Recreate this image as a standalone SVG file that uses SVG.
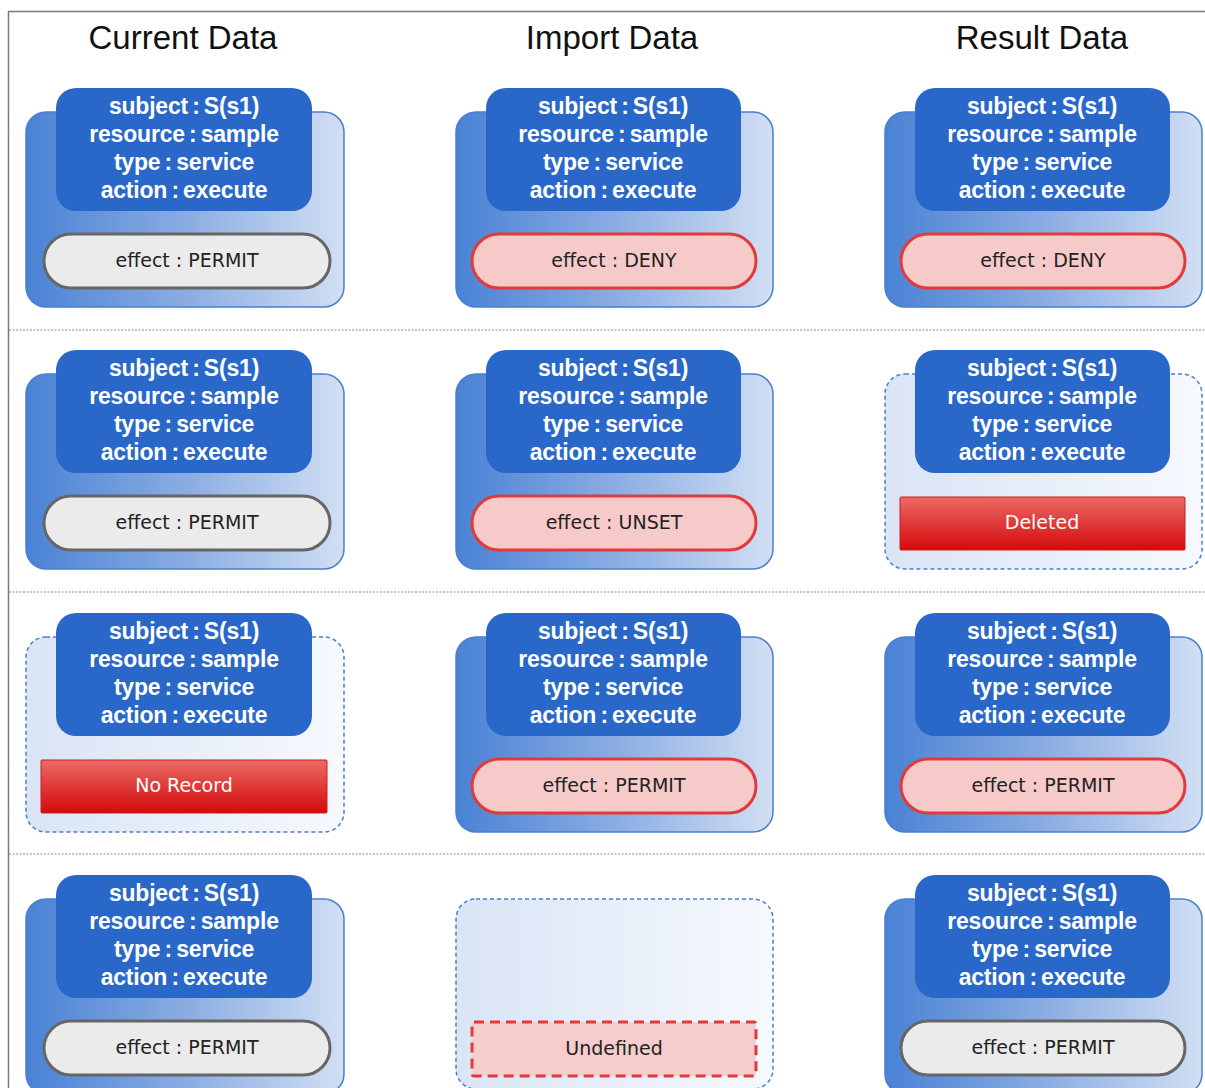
<svg xmlns="http://www.w3.org/2000/svg" width="1205" height="1088" viewBox="0 0 1205 1088">
<defs>
<linearGradient id="gBlue" x1="0" y1="0" x2="1" y2="0">
<stop offset="0" stop-color="#4a82d5"/>
<stop offset="0.5" stop-color="#8aace2"/>
<stop offset="1" stop-color="#d2dff4"/>
</linearGradient>
<linearGradient id="gPale" x1="0" y1="0" x2="1" y2="0">
<stop offset="0" stop-color="#d9e4f5"/>
<stop offset="1" stop-color="#f6f9fe"/>
</linearGradient>
<linearGradient id="gRed" x1="0" y1="0" x2="0" y2="1">
<stop offset="0" stop-color="#ea6a66"/>
<stop offset="1" stop-color="#d40a0a"/>
</linearGradient>
</defs>
<style>
.frame{stroke:#7a7a7a;stroke-width:1.5;fill:none}
.sep{stroke:#888;stroke-width:1;stroke-dasharray:2 1.5;fill:none}
.title{font-family:"Liberation Sans",Arial,sans-serif;font-size:33px;fill:#111;text-anchor:middle}
.outer{fill:url(#gBlue);stroke:#4a7fd0;stroke-width:1.5}
.outerD{fill:url(#gPale);stroke:#4a7fd0;stroke-width:1.5;stroke-dasharray:4 3}
.head{fill:#2968c9}
.ht{font-family:"Liberation Sans",Arial,sans-serif;font-weight:bold;font-size:23px;letter-spacing:-0.2px;word-spacing:-2px;fill:#fff;text-anchor:middle}
.pg{fill:#ebebeb;stroke:#666;stroke-width:3}
.pr{fill:#f7caca;stroke:#e23a3a;stroke-width:3}
.und{fill:#f7cccc;stroke:#e23a3a;stroke-width:3;stroke-dasharray:10 6}
.red{fill:url(#gRed);stroke:#c81e1e;stroke-width:1}
.et{font-family:"DejaVu Sans",Verdana,sans-serif;font-size:19px;fill:#222;text-anchor:middle}
.wt{font-family:"DejaVu Sans",Verdana,sans-serif;font-size:19px;fill:#fff;text-anchor:middle}
</style>
<rect width="1205" height="1088" fill="#fff"/>
<g id="frame">
<path class="frame" d="M8.5 1088 V11.5 H1205"/>
</g>
<g id="separators">
<line class="sep" x1="9" y1="330" x2="1205" y2="330"/>
<line class="sep" x1="9" y1="592" x2="1205" y2="592"/>
<line class="sep" x1="9" y1="854" x2="1205" y2="854"/>
</g>
<g id="titles">
<text class="title" x="183" y="49">Current Data</text>
<text class="title" x="612" y="49">Import Data</text>
<text class="title" x="1042" y="49">Result Data</text>
</g>
<g id="connectors"></g>

<!-- Row 1 -->
<g id="r1c1">
<rect class="outer" x="26" y="112" width="318" height="195" rx="20"/>
<rect class="head" x="56" y="88" width="256" height="123" rx="20"/>
<text class="ht" x="184" y="114">subject : S(s1)</text>
<text class="ht" x="184" y="142">resource : sample</text>
<text class="ht" x="184" y="170">type : service</text>
<text class="ht" x="184" y="198">action : execute</text>
<rect class="pg" x="44" y="234" width="286" height="54" rx="27"/>
<text class="et" x="187" y="267">effect : PERMIT</text>
</g>
<g id="r1c2">
<rect class="outer" x="456" y="112" width="317" height="195" rx="20"/>
<rect class="head" x="486" y="88" width="255" height="123" rx="20"/>
<text class="ht" x="613" y="114">subject : S(s1)</text>
<text class="ht" x="613" y="142">resource : sample</text>
<text class="ht" x="613" y="170">type : service</text>
<text class="ht" x="613" y="198">action : execute</text>
<rect class="pr" x="472" y="234" width="284" height="54" rx="27"/>
<text class="et" x="614" y="267">effect : DENY</text>
</g>
<g id="r1c3">
<rect class="outer" x="885" y="112" width="317" height="195" rx="20"/>
<rect class="head" x="915" y="88" width="255" height="123" rx="20"/>
<text class="ht" x="1042" y="114">subject : S(s1)</text>
<text class="ht" x="1042" y="142">resource : sample</text>
<text class="ht" x="1042" y="170">type : service</text>
<text class="ht" x="1042" y="198">action : execute</text>
<rect class="pr" x="901" y="234" width="284" height="54" rx="27"/>
<text class="et" x="1043" y="267">effect : DENY</text>
</g>

<!-- Row 2 -->
<g id="r2c1">
<rect class="outer" x="26" y="374" width="318" height="195" rx="20"/>
<rect class="head" x="56" y="350" width="256" height="123" rx="20"/>
<text class="ht" x="184" y="376">subject : S(s1)</text>
<text class="ht" x="184" y="404">resource : sample</text>
<text class="ht" x="184" y="432">type : service</text>
<text class="ht" x="184" y="460">action : execute</text>
<rect class="pg" x="44" y="496" width="286" height="54" rx="27"/>
<text class="et" x="187" y="529">effect : PERMIT</text>
</g>
<g id="r2c2">
<rect class="outer" x="456" y="374" width="317" height="195" rx="20"/>
<rect class="head" x="486" y="350" width="255" height="123" rx="20"/>
<text class="ht" x="613" y="376">subject : S(s1)</text>
<text class="ht" x="613" y="404">resource : sample</text>
<text class="ht" x="613" y="432">type : service</text>
<text class="ht" x="613" y="460">action : execute</text>
<rect class="pr" x="472" y="496" width="284" height="54" rx="27"/>
<text class="et" x="614" y="529">effect : UNSET</text>
</g>
<g id="r2c3">
<rect class="outerD" x="885" y="374" width="317" height="195" rx="20"/>
<rect class="head" x="915" y="350" width="255" height="123" rx="20"/>
<text class="ht" x="1042" y="376">subject : S(s1)</text>
<text class="ht" x="1042" y="404">resource : sample</text>
<text class="ht" x="1042" y="432">type : service</text>
<text class="ht" x="1042" y="460">action : execute</text>
<rect class="red" x="900" y="497" width="285" height="53" rx="1"/>
<text class="wt" x="1042" y="529">Deleted</text>
</g>

<!-- Row 3 -->
<g id="r3c1">
<rect class="outerD" x="26" y="637" width="318" height="195" rx="20"/>
<rect class="head" x="56" y="613" width="256" height="123" rx="20"/>
<text class="ht" x="184" y="639">subject : S(s1)</text>
<text class="ht" x="184" y="667">resource : sample</text>
<text class="ht" x="184" y="695">type : service</text>
<text class="ht" x="184" y="723">action : execute</text>
<rect class="red" x="41" y="760" width="286" height="53" rx="1"/>
<text class="wt" x="184" y="792">No Record</text>
</g>
<g id="r3c2">
<rect class="outer" x="456" y="637" width="317" height="195" rx="20"/>
<rect class="head" x="486" y="613" width="255" height="123" rx="20"/>
<text class="ht" x="613" y="639">subject : S(s1)</text>
<text class="ht" x="613" y="667">resource : sample</text>
<text class="ht" x="613" y="695">type : service</text>
<text class="ht" x="613" y="723">action : execute</text>
<rect class="pr" x="472" y="759" width="284" height="54" rx="27"/>
<text class="et" x="614" y="792">effect : PERMIT</text>
</g>
<g id="r3c3">
<rect class="outer" x="885" y="637" width="317" height="195" rx="20"/>
<rect class="head" x="915" y="613" width="255" height="123" rx="20"/>
<text class="ht" x="1042" y="639">subject : S(s1)</text>
<text class="ht" x="1042" y="667">resource : sample</text>
<text class="ht" x="1042" y="695">type : service</text>
<text class="ht" x="1042" y="723">action : execute</text>
<rect class="pr" x="901" y="759" width="284" height="54" rx="27"/>
<text class="et" x="1043" y="792">effect : PERMIT</text>
</g>

<!-- Row 4 -->
<g id="r4c1">
<rect class="outer" x="26" y="899" width="318" height="195" rx="20"/>
<rect class="head" x="56" y="875" width="256" height="123" rx="20"/>
<text class="ht" x="184" y="901">subject : S(s1)</text>
<text class="ht" x="184" y="929">resource : sample</text>
<text class="ht" x="184" y="957">type : service</text>
<text class="ht" x="184" y="985">action : execute</text>
<rect class="pg" x="44" y="1021" width="286" height="54" rx="27"/>
<text class="et" x="187" y="1054">effect : PERMIT</text>
</g>
<g id="r4c2">
<rect class="outerD" x="456" y="899" width="317" height="190" rx="20"/>
<rect class="und" x="472" y="1022" width="284" height="54" rx="2"/>
<text class="et" x="614" y="1055">Undefined</text>
</g>
<g id="r4c3">
<rect class="outer" x="885" y="899" width="317" height="195" rx="20"/>
<rect class="head" x="915" y="875" width="255" height="123" rx="20"/>
<text class="ht" x="1042" y="901">subject : S(s1)</text>
<text class="ht" x="1042" y="929">resource : sample</text>
<text class="ht" x="1042" y="957">type : service</text>
<text class="ht" x="1042" y="985">action : execute</text>
<rect class="pg" x="901" y="1021" width="284" height="54" rx="27"/>
<text class="et" x="1043" y="1054">effect : PERMIT</text>
</g>
</svg>
